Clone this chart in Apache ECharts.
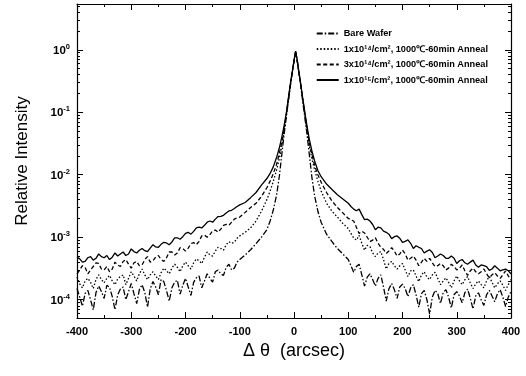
<!DOCTYPE html>
<html>
<head>
<meta charset="utf-8">
<script src="https://cdn.jsdelivr.net/npm/echarts@6/dist/echarts.min.js"></script>
<style>
html,body{margin:0;padding:0;background:#fff;}
#chart{width:526px;height:376px;}
</style>
</head>
<body>
<div id="chart"></div>
<script>
// Δθ positions (arcsec)
var theta = [-400,-395,-390,-385,-380,-375,-370,-365,-360,-355,-350,-345,-340,-335,-330,-325,-320,-315,-310,-305,
  -300,-295,-290,-285,-280,-275,-270,-265,-260,-255,-250,-245,-240,-235,-230,-225,-220,-215,-210,-205,
  -200,-195,-190,-185,-180,-175,-170,-165,-160,-155,-150,-145,-140,-135,-130,-125,-120,-115,-110,-105,
  -100,-90,-80,-70,-60,-50,-44,-38,-32,-27,-22,-18,-14,-10,-6,-3,0,3,6,9,12,16,20,24,28,33,38,44,50,60,70,80,90,100,
  105,110,115,120,125,130,135,140,145,150,155,160,165,170,175,180,185,190,195,200,
  205,210,215,220,225,230,235,240,245,250,255,260,265,270,275,280,285,290,295,300,
  305,310,315,320,325,330,335,340,345,350,355,360,365,370,375,380,385,390,395,400];

var seriesNames = ['Bare Wafer', '1x10¹⁴/cm², 1000℃-60min Anneal', '3x10¹⁴/cm², 1000℃-60min Anneal', '1x10¹⁵/cm², 1000℃-60min Anneal'];

var bareWafer = [
  1.51e-4,1.1e-4,7.9e-5,1.26e-4,1.41e-4,1.0e-4,6.9e-5,1.3e-4,1.66e-4,1.35e-4,
  1.05e-4,1.7e-4,1.58e-4,1.12e-4,6.9e-5,1.2e-4,1.48e-4,1.6e-4,1.0e-4,1.35e-4,
  1.82e-4,1.25e-4,8.7e-5,1.45e-4,1.74e-4,1.3e-4,7.6e-5,1.5e-4,1.95e-4,1.6e-4,
  1.2e-4,2.1e-4,1.95e-4,1.4e-4,9.5e-5,1.55e-4,1.91e-4,2.05e-4,1.23e-4,1.7e-4,
  2.2e-4,1.6e-4,1.17e-4,1.9e-4,2.24e-4,2.4e-4,1.55e-4,2.0e-4,2.6e-4,2.2e-4,
  1.91e-4,2.8e-4,3.0e-4,2.6e-4,2.45e-4,3.3e-4,3.7e-4,3.0e-4,3.2e-4,4.0e-4,
  4.4e-4,5.2e-4,6.3e-4,7.9e-4,1.0e-3,1.32e-3,1.82e-3,2.75e-3,4.8e-3,9.5e-3,2.3e-2,4.6e-2,0.087,0.158,0.295,0.437,0.66,0.933,0.66,0.437,0.288,0.151,0.083,0.044,0.022,9.1e-3,4.6e-3,2.6e-3,1.74e-3,1.12e-3,8.5e-4,6.6e-4,5.4e-4,4.4e-4,
  3.5e-4,2.75e-4,3.4e-4,3.7e-4,2.5e-4,1.66e-4,2.3e-4,2.6e-4,2.1e-4,1.66e-4,
  2.2e-4,2.5e-4,1.6e-4,9.5e-5,1.5e-4,1.82e-4,1.45e-4,1.05e-4,1.6e-4,1.78e-4,
  1.5e-4,1.12e-4,1.55e-4,1.74e-4,1.2e-4,7.6e-5,1.25e-4,1.41e-4,1.0e-4,5.9e-5,
  1.1e-4,1.41e-4,1.25e-4,8.7e-5,1.3e-4,1.45e-4,1.1e-4,7.4e-5,1.2e-4,1.35e-4,
  1.15e-4,8.9e-5,1.3e-4,1.48e-4,1.05e-4,7.1e-5,1.15e-4,1.29e-4,1.0e-4,8.1e-5,
  1.2e-4,1.41e-4,1.15e-4,9.3e-5,1.25e-4,1.45e-4,1.1e-4,7.8e-5,1.1e-4,1.35e-4];

var dose1e14 = [
  2.3e-4,1.8e-4,1.55e-4,2.0e-4,2.2e-4,1.9e-4,1.51e-4,2.1e-4,2.5e-4,2.1e-4,
  1.86e-4,2.2e-4,2.45e-4,2.0e-4,1.74e-4,2.15e-4,2.35e-4,2.5e-4,1.74e-4,2.2e-4,
  2.8e-4,2.4e-4,2.0e-4,2.6e-4,3.1e-4,2.5e-4,2.1e-4,2.5e-4,2.8e-4,2.4e-4,
  2.1e-4,2.7e-4,3.2e-4,2.9e-4,2.6e-4,3.2e-4,3.7e-4,3.3e-4,2.8e-4,3.5e-4,
  4.0e-4,3.5e-4,3.1e-4,3.9e-4,4.5e-4,4.2e-4,3.8e-4,4.8e-4,5.8e-4,5.2e-4,
  5.0e-4,6.0e-4,6.9e-4,6.6e-4,6.2e-4,7.6e-4,8.5e-4,8.0e-4,8.3e-4,9.6e-4,
  1.05e-3,1.2e-3,1.41e-3,1.82e-3,2.6e-3,4.0e-3,5.5e-3,7.9e-3,1.2e-2,1.82e-2,3.0e-2,5.1e-2,0.093,0.166,0.30,0.437,0.66,0.933,0.66,0.437,0.295,0.158,0.089,0.050,0.030,0.018,0.012,7.9e-3,5.5e-3,3.5e-3,2.6e-3,2.1e-3,1.66e-3,1.38e-3,
  1.15e-3,9.8e-4,9.0e-4,1.07e-3,8.0e-4,6.2e-4,7.4e-4,7.1e-4,5.6e-4,4.9e-4,
  5.6e-4,5.9e-4,4.4e-4,3.1e-4,3.8e-4,4.1e-4,3.5e-4,3.1e-4,3.5e-4,3.8e-4,
  3.0e-4,2.35e-4,2.9e-4,3.0e-4,2.4e-4,1.95e-4,2.5e-4,2.8e-4,2.3e-4,2.1e-4,
  2.5e-4,2.75e-4,2.2e-4,1.74e-4,2.0e-4,2.24e-4,1.9e-4,1.55e-4,2.0e-4,2.4e-4,
  2.0e-4,1.74e-4,2.1e-4,2.35e-4,1.85e-4,1.51e-4,1.8e-4,2.0e-4,1.75e-4,1.55e-4,
  2.0e-4,2.35e-4,1.9e-4,1.55e-4,1.8e-4,2.0e-4,1.7e-4,1.41e-4,1.75e-4,2.0e-4];

var dose3e14 = [
  2.6e-4,3.0e-4,3.5e-4,3.3e-4,2.6e-4,3.0e-4,3.4e-4,3.9e-4,3.8e-4,3.1e-4,
  3.0e-4,3.4e-4,2.8e-4,3.1e-4,4.0e-4,3.6e-4,3.4e-4,4.1e-4,4.4e-4,3.7e-4,
  3.2e-4,3.9e-4,4.1e-4,3.5e-4,3.6e-4,4.4e-4,4.9e-4,4.0e-4,4.2e-4,4.8e-4,
  5.1e-4,4.4e-4,4.1e-4,4.7e-4,5.8e-4,5.8e-4,5.2e-4,5.6e-4,6.8e-4,6.6e-4,
  6.0e-4,6.7e-4,7.9e-4,8.2e-4,7.6e-4,8.6e-4,1.05e-3,1.08e-3,1.0e-3,1.1e-3,
  1.26e-3,1.3e-3,1.2e-3,1.35e-3,1.55e-3,1.6e-3,1.55e-3,1.75e-3,1.95e-3,2.05e-3,
  2.1e-3,2.5e-3,3.0e-3,3.5e-3,4.5e-3,6.2e-3,7.9e-3,1.05e-2,1.48e-2,2.2e-2,3.5e-2,5.5e-2,0.095,0.17,0.31,0.447,0.676,0.933,0.66,0.437,0.295,0.162,0.093,0.054,0.033,0.021,0.0141,0.010,7.6e-3,5.2e-3,3.8e-3,3.0e-3,2.45e-3,2.0e-3,
  1.9e-3,1.82e-3,1.45e-3,1.15e-3,1.25e-3,1.17e-3,1.0e-3,8.5e-4,9.0e-4,9.8e-4,
  8.0e-4,6.9e-4,6.4e-4,5.5e-4,6.0e-4,6.8e-4,6.0e-4,5.0e-4,5.4e-4,6.2e-4,
  5.4e-4,4.3e-4,4.6e-4,5.0e-4,4.3e-4,3.5e-4,4.0e-4,4.6e-4,4.1e-4,4.6e-4,
  3.9e-4,3.4e-4,3.5e-4,3.8e-4,3.5e-4,3.0e-4,3.2e-4,3.7e-4,3.4e-4,3.0e-4,
  3.2e-4,3.6e-4,2.9e-4,2.45e-4,2.9e-4,3.2e-4,2.8e-4,2.6e-4,2.8e-4,3.1e-4,
  2.6e-4,2.24e-4,2.5e-4,2.7e-4,2.4e-4,2.2e-4,2.5e-4,2.9e-4,2.4e-4,2.1e-4];

var dose1e15 = [
  4.8e-4,4.5e-4,4.0e-4,4.1e-4,4.7e-4,4.9e-4,4.3e-4,4.6e-4,5.4e-4,4.9e-4,
  4.7e-4,5.1e-4,4.4e-4,4.8e-4,5.6e-4,5.0e-4,5.4e-4,5.8e-4,5.1e-4,5.4e-4,
  6.5e-4,5.9e-4,5.6e-4,6.2e-4,6.6e-4,6.1e-4,5.9e-4,6.7e-4,7.6e-4,7.0e-4,
  6.9e-4,7.7e-4,8.3e-4,8.1e-4,7.6e-4,8.4e-4,9.8e-4,9.8e-4,9.3e-4,1.02e-3,
  1.15e-3,1.2e-3,1.12e-3,1.24e-3,1.41e-3,1.45e-3,1.41e-3,1.55e-3,1.74e-3,1.82e-3,
  1.74e-3,1.95e-3,2.14e-3,2.15e-3,2.24e-3,2.45e-3,2.63e-3,2.7e-3,2.88e-3,3.1e-3,
  3.3e-3,3.6e-3,4.3e-3,5.2e-3,6.8e-3,8.7e-3,1.05e-2,1.35e-2,1.9e-2,2.7e-2,4.2e-2,6.3e-2,0.10,0.178,0.316,0.457,0.676,0.955,0.676,0.447,0.302,0.170,0.10,0.060,0.038,0.024,0.0166,0.0117,9.3e-3,7.1e-3,5.8e-3,4.8e-3,4.1e-3,3.5e-3,
  3.1e-3,2.82e-3,2.65e-3,2.82e-3,2.3e-3,1.91e-3,1.95e-3,1.82e-3,1.6e-3,1.32e-3,
  1.45e-3,1.41e-3,1.25e-3,1.2e-3,1.12e-3,9.5e-4,1.02e-3,1.05e-3,9.6e-4,8.3e-4,
  8.6e-4,9.1e-4,8.0e-4,6.6e-4,7.3e-4,6.9e-4,6.6e-4,5.6e-4,6.0e-4,6.3e-4,
  5.7e-4,4.7e-4,5.0e-4,5.4e-4,5.1e-4,4.6e-4,4.6e-4,5.0e-4,4.6e-4,3.8e-4,
  4.2e-4,4.4e-4,3.9e-4,3.7e-4,4.0e-4,4.3e-4,3.6e-4,3.3e-4,3.6e-4,3.5e-4,
  3.4e-4,2.95e-4,3.1e-4,3.5e-4,3.2e-4,2.9e-4,3.0e-4,3.1e-4,2.9e-4,2.6e-4];

var yMin = 5.1e-5, yMax = 5.4;

var minorTicks = [];
[-5,-4,-3,-2,-1,0].forEach(function(e){
  for (var k = 2; k <= 9; k++) {
    var v = k * Math.pow(10, e);
    if (v > yMin && v < yMax) minorTicks.push(v);
  }
});

var FONT = '"Liberation Sans", Arial, Helvetica, sans-serif';
var dashStyles = [[6,2,1.5,2],[1.5,2],[4,2.5],'solid'];
var allSeries = [bareWafer, dose1e14, dose3e14, dose1e15];

function pair(vals){ return theta.map(function(t,i){ return [t, vals[i]]; }); }

function logAxis(pos, major, withLabels){
  return {
    type:'log', logBase:10, min:yMin, max:yMax, position:pos,
    axisLine: major ? {show:true, onZero:false, lineStyle:{color:'#000', width:1.2}} : {show:false, onZero:false},
    splitLine:{show:false},
    axisTick: major ? {show:true, inside:true, length:6, lineStyle:{color:'#000', width:1}}
                    : {show:true, inside:true, length:3, customValues:minorTicks, lineStyle:{color:'#000', width:1}},
    axisLabel: withLabels ? {
      show:true, showMinLabel:false, showMaxLabel:false, margin:7,
      formatter:function(v){
        var e = Math.round(Math.log10(v));
        return '{a|10}{b|' + String(e) + '}';
      },
      rich:{
        a:{fontSize:11.5, fontWeight:'bold', fontFamily:FONT, color:'#000', lineHeight:14, verticalAlign:'bottom'},
        b:{fontSize:7.5, fontWeight:'bold', fontFamily:FONT, color:'#000', lineHeight:14, verticalAlign:'top'}
      }
    } : {show:false},
    name: withLabels ? 'Relative Intensity' : '',
    nameLocation:'middle', nameGap:46,
    nameTextStyle:{fontSize:17, fontFamily:FONT, color:'#000'}
  };
}

function xAxisDef(pos, withLabels){
  return {
    type:'value', min:-400, max:400, interval:100, position:pos,
    axisLine:{show:true, onZero:false, lineStyle:{color:'#000', width:1.2}},
    splitLine:{show:false},
    axisTick:{show:true, inside:true, length:6, lineStyle:{color:'#000', width:1}},
    minorTick:{show:true, splitNumber:2, length:3, lineStyle:{color:'#000', width:1}},
    axisLabel: withLabels ? {fontSize:11, fontWeight:'bold', fontFamily:FONT, color:'#000', margin:8} : {show:false},
    name: withLabels ? 'Δ θ  (arcsec)' : '', nameLocation:'middle', nameGap:23,
    nameTextStyle:{fontSize:18, fontFamily:FONT, color:'#000'}
  };
}

var chart = echarts.init(document.getElementById('chart'), null, {renderer:'canvas'});
chart.setOption({
  animation:false,
  backgroundColor:'#fff',
  grid:{left:77, right:15, top:4, bottom:58},
  legend:{
    orient:'vertical', right:38, top:29, padding:0,
    itemWidth:22, itemHeight:8, itemGap:6.5,
    data:seriesNames,
    itemStyle:{opacity:0, color:'rgba(0,0,0,0)', borderWidth:0},
    textStyle:{fontSize:9.2, fontWeight:'bold', fontFamily:FONT, color:'#000'}
  },
  xAxis:[xAxisDef('bottom', true), xAxisDef('top', false)],
  yAxis:[logAxis('left', true, true), logAxis('left', false, false), logAxis('right', true, false), logAxis('right', false, false)],
  series: allSeries.map(function(vals, i){
    return {
      name:seriesNames[i], type:'line', xAxisIndex:0, yAxisIndex:0,
      data:pair(vals), showSymbol:false, symbol:'none', silent:true,
      lineStyle:{color:'#000', width:1.3, type:dashStyles[i]},
      itemStyle:{color:'#000'}
    };
  })
});
</script>
</body>
</html>
